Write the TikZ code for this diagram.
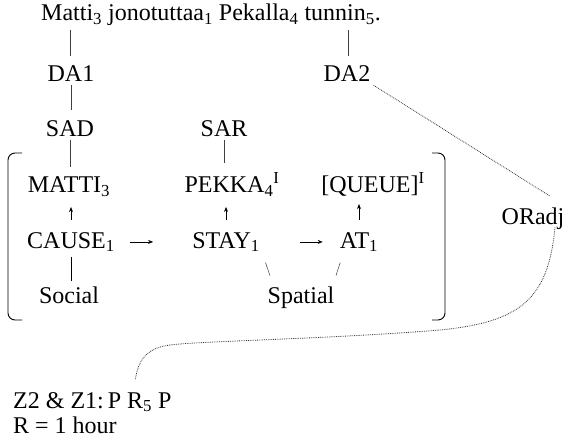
\documentclass[tikz,border=0pt]{standalone}
\usepackage{fontspec}
\setmainfont{Liberation Serif}
\usetikzlibrary{arrows.meta}
\begin{document}
\begin{tikzpicture}[x=1pt,y=-1pt,
  lbl/.style={anchor=base,inner sep=3pt,font=\fontsize{24}{26}\selectfont},
  tie/.style={line width=0.5pt,black!75,shorten >=7pt},
  up/.style={-{Stealth[length=5pt,width=4pt]},line width=0.6pt,shorten <=9pt,shorten >=7pt},
  fwd/.style={-{Stealth[length=5pt,width=4pt]},line width=0.6pt},
  dots/.style={densely dotted,line width=0.8pt,black!80}]
\useasboundingbox (0,0) rectangle (568,441);
% sentence and discourse anchors
\node[lbl] (sent) at (211,21) {Matti\textsubscript{3} jonotuttaa\textsubscript{1} Pekalla\textsubscript{4} tunnin\textsubscript{5}.};
\coordinate (w3) at (70,30); \coordinate (w5) at (348,30);
\node[lbl] (da1) at (71,82) {DA1};
\node[lbl] (da2) at (347,82) {DA2};
\node[lbl] (sad) at (70,137) {SAD};
\node[lbl] (sar) at (224,137) {SAR};
% conceptual structure
\node[lbl] (matti) at (69,193) {MATTI\textsubscript{3}};
\node[lbl] (pekka) at (232,193) {PEKKA\textsubscript{4}\textsuperscript{I}};
\node[lbl] (queue) at (373,193) {[QUEUE]\textsuperscript{I}};
\node[lbl] (cause) at (71,248) {CAUSE\textsubscript{1}};
\node[lbl] (stay) at (226,248) {STAY\textsubscript{1}};
\node[lbl] (at) at (359,248) {AT\textsubscript{1}};
\node[lbl] (social) at (69,303) {Social};
\node[lbl] (spatial) at (301,303) {Spatial};
\node[lbl] (oradj) at (533,225) {ORadj};
\node[lbl,anchor=base west] (zpr) at (10,408) {Z2 \& Z1:\,P R\textsubscript{5} P};
\node[lbl,anchor=base west] (rdef) at (10,433) {R = 1 hour};
% links
\draw[tie] (w3) -- (w3 |- da1.north);
\draw[tie] (w5) -- (w5 |- da2.north);
\draw[tie,shorten >=8pt] (da1.south) -- (da1.south |- sad.north);
\draw[tie] (sad.south) -- (sad.south |- matti.north);
\draw[tie] (sar.south) -- (sar.south |- pekka.north);
\draw[up] (cause.north) -- (cause.north |- matti.south);
\draw[up] (stay.north) -- (stay.north |- pekka.south);
\draw[up,shorten >=4pt] (at.north) -- (at.north |- queue.south);
\draw[fwd,shorten <=12pt,shorten >=36pt] (cause) -- (cause -| stay.west);
\draw[fwd,shorten <=37pt,shorten >=14pt] (stay) -- (stay -| at.west);
\draw[line width=1pt,shorten <=2pt,shorten >=2pt] (cause.south) -- (cause.south |- social.north);
\draw[tie,shorten <=8pt,shorten >=8pt] (stay.south east) -- ([xshift=8pt]spatial.north west);
\draw[tie,shorten <=8pt,shorten >=8pt] ([xshift=6pt]at.south west) -- ([xshift=-4pt]spatial.north east);
% brackets
\draw[line width=0.9pt,rounded corners=7pt] (22,153) -- (8,153) -- (8,320) -- (22,320);
\draw[line width=0.9pt,rounded corners=7pt] (432,153) -- (445,153) -- (445,320) -- (432,320);
% adjunct links
\draw[dots] (da2.south east) -- ([xshift=17pt,yshift=9pt]oradj.north);
\draw[dots] ([xshift=22pt,yshift=6pt]oradj.south) .. controls (548,300) and (520,322) .. (440,330)
  .. controls (330,339) and (200,341) .. (170,345)
  .. controls (145,348) and (138,362) .. ([xshift=43pt,yshift=9pt]zpr.north);
\end{tikzpicture}
\end{document}
